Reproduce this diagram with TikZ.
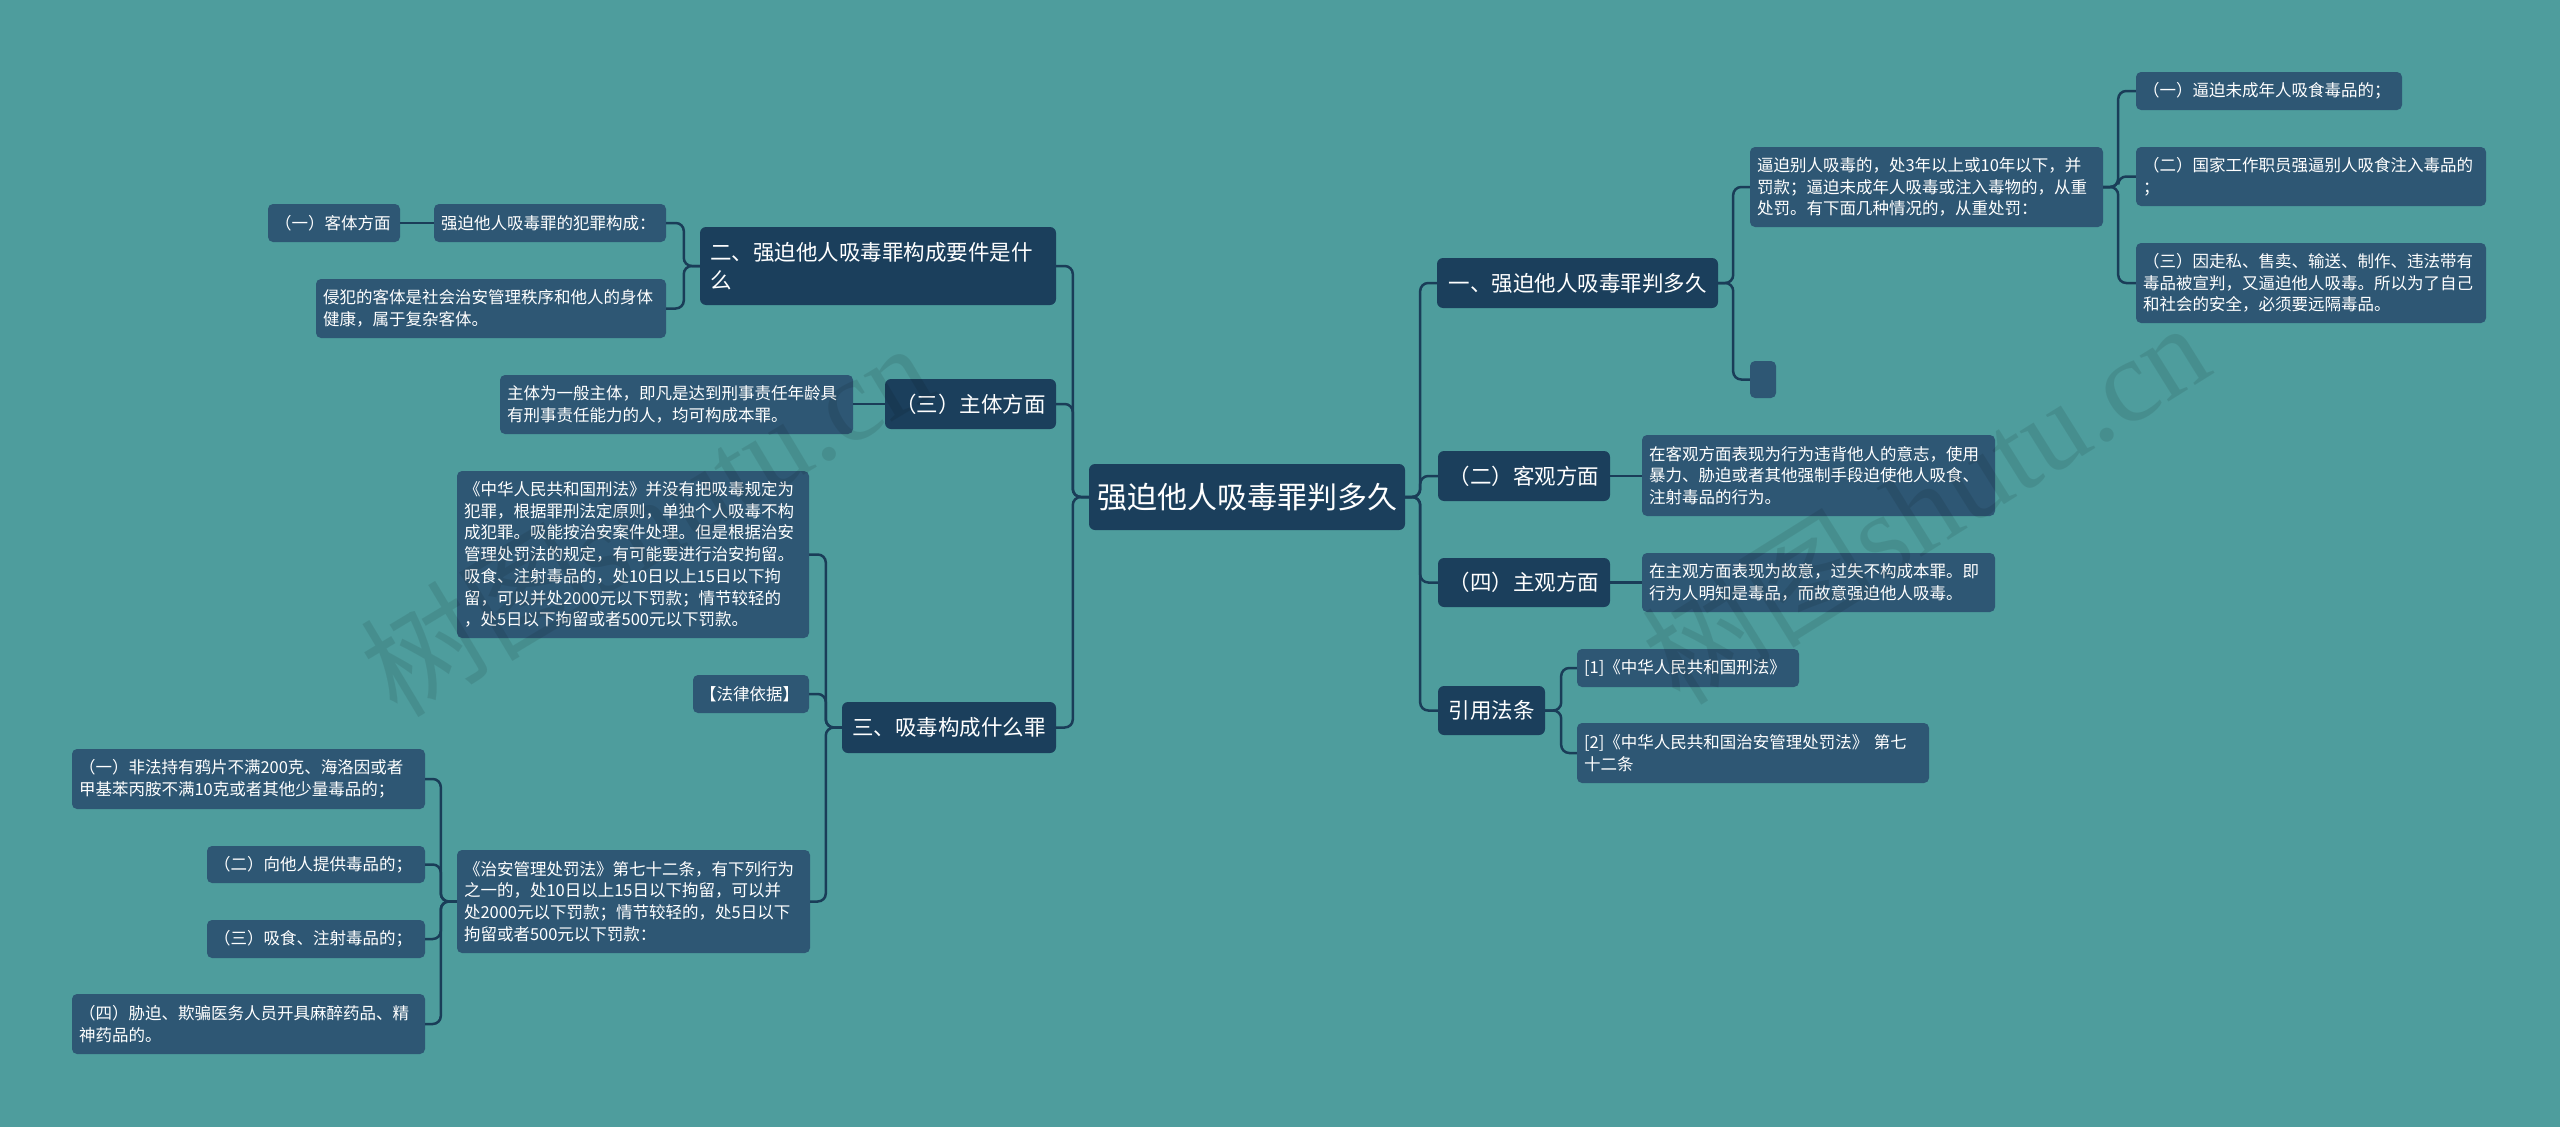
\documentclass[tikz,border=0pt]{standalone}
\usepackage{fontspec}
\setmainfont{Noto Sans CJK SC}
\newfontfamily\wmlatin{Liberation Serif}
\definecolor{bgcol}{RGB}{78,157,157}
\definecolor{darkn}{RGB}{27,63,92}
\definecolor{lightn}{RGB}{46,87,116}
\definecolor{linec}{RGB}{26,61,88}
\tikzset{
  dbox/.style={fill=darkn, rounded corners=6pt, text=white, inner sep=0pt, align=center,
               font=\fontsize{21.5}{28}\selectfont},
  lbox/.style={fill=lightn, rounded corners=5pt, text=white, inner xsep=7pt, inner ysep=0pt,
               align=left, font=\fontsize{16.5}{21.7}\selectfont},
  conn/.style={draw=linec, line width=2.5pt, rounded corners=8pt},
  wmark/.style={text=black, text opacity=0.09, font=\fontsize{118}{120}\selectfont, inner sep=0pt}
}
\begin{document}
\begin{tikzpicture}[x=1pt,y=-1pt]
\useasboundingbox (0,0) rectangle (2560,1127);
\fill[bgcol] (0,0) rectangle (2560,1127);

% central
\node[dbox, minimum width=316pt, minimum height=66pt, font=\fontsize{30}{36}\selectfont] (c) at (1247,497) {强迫他人吸毒罪判多久};

% left level 1
\node[dbox, minimum width=356pt, minimum height=78pt, text width=336pt, align=left] (n2) at (878,266) {二、强迫他人吸毒罪构成要件是什\\么};
\node[dbox, minimum width=171pt, minimum height=50pt] (n3z) at (970.5,404) {（三）主体方面};
\node[dbox, minimum width=214pt, minimum height=51pt] (n3) at (949,727.5) {三、吸毒构成什么罪};

% right level 1
\node[dbox, minimum width=281pt, minimum height=50pt] (r1) at (1577.5,283) {一、强迫他人吸毒罪判多久};
\node[dbox, minimum width=172pt, minimum height=50pt] (r2) at (1524,476) {（二）客观方面};
\node[dbox, minimum width=172pt, minimum height=49pt] (r4) at (1524,582.5) {（四）主观方面};
\node[dbox, minimum width=107pt, minimum height=49pt] (r5) at (1491.5,710.5) {引用法条};

% left level 2
\node[lbox, text width=218pt, minimum height=38pt] (a1) at (550,223) {强迫他人吸毒罪的犯罪构成：};
\node[lbox, text width=118pt, minimum height=38pt] (a0) at (334,223) {（一）客体方面};
\node[lbox, text width=336pt, minimum height=59pt] (a2) at (491,308.5) {侵犯的客体是社会治安管理秩序和他人的身体\\健康，属于复杂客体。};
\node[lbox, text width=339pt, minimum height=59pt] (b1) at (676.5,404.5) {主体为一般主体，即凡是达到刑事责任年龄具\\有刑事责任能力的人，均可构成本罪。};
\node[lbox, text width=338pt, minimum height=167pt] (c1) at (633,554.5) {《中华人民共和国刑法》并没有把吸毒规定为\\犯罪，根据罪刑法定原则，单独个人吸毒不构\\成犯罪。吸能按治安案件处理。但是根据治安\\管理处罚法的规定，有可能要进行治安拘留。\\吸食、注射毒品的，处10日以上15日以下拘\\留，可以并处2000元以下罚款；情节较轻的\\，处5日以下拘留或者500元以下罚款。};
\node[lbox, text width=102pt, minimum height=38pt] (c2) at (751,694) {【法律依据】};
\node[lbox, text width=339pt, minimum height=103pt] (c3) at (633.5,901.5) {《治安管理处罚法》第七十二条，有下列行为\\之一的，处10日以上15日以下拘留，可以并\\处2000元以下罚款；情节较轻的，处5日以下\\拘留或者500元以下罚款：};
\node[lbox, text width=339pt, minimum height=60pt] (d1) at (248.5,779) {（一）非法持有鸦片不满200克、海洛因或者\\甲基苯丙胺不满10克或者其他少量毒品的；};
\node[lbox, text width=204pt, minimum height=37pt] (d2) at (316,864.5) {（二）向他人提供毒品的；};
\node[lbox, text width=204pt, minimum height=38pt] (d3) at (316,939) {（三）吸食、注射毒品的；};
\node[lbox, text width=339pt, minimum height=60pt] (d4) at (248.5,1024) {（四）胁迫、欺骗医务人员开具麻醉药品、精\\神药品的。};

% right level 2
\node[lbox, text width=339pt, minimum height=80pt] (e1) at (1926.5,187) {逼迫别人吸毒的，处3年以上或10年以下，并\\罚款；逼迫未成年人吸毒或注入毒物的，从重\\处罚。有下面几种情况的，从重处罚：};
\node[lbox, inner xsep=0pt, minimum width=26pt, minimum height=37pt] (e2) at (1763,379.5) {};
\node[lbox, text width=252pt, minimum height=38pt] (f1) at (2269,91) {（一）逼迫未成年人吸食毒品的；};
\node[lbox, text width=336pt, minimum height=59pt] (f2) at (2311,176.5) {（二）国家工作职员强逼别人吸食注入毒品的\\；};
\node[lbox, text width=336pt, minimum height=80pt] (f3) at (2311,283) {（三）因走私、售卖、输送、制作、违法带有\\毒品被宣判，又逼迫他人吸毒。所以为了自己\\和社会的安全，必须要远隔毒品。};
\node[lbox, text width=339pt, minimum height=81pt] (g1) at (1818.5,475.5) {在客观方面表现为行为违背他人的意志，使用\\暴力、胁迫或者其他强制手段迫使他人吸食、\\注射毒品的行为。};
\node[lbox, text width=339pt, minimum height=59pt] (g2) at (1818.5,582.5) {在主观方面表现为故意，过失不构成本罪。即\\行为人明知是毒品，而故意强迫他人吸毒。};
\node[lbox, text width=208pt, minimum height=38pt] (h1) at (1688,668) {[1]《中华人民共和国刑法》};
\node[lbox, text width=338pt, minimum height=60pt] (h2) at (1753,753) {[2]《中华人民共和国治安管理处罚法》 第七\\十二条};

% connectors: central
\foreach \t in {r1,r2,r4,r5} \draw[conn] (c.east) -- ++(15,0) |- (\t.west);
\foreach \t in {n2,n3z,n3} \draw[conn] (c.west) -- ++(-16,0) |- (\t.east);
% right
\foreach \t in {e1,e2} \draw[conn] (r1.east) -- ++(15,0) |- (\t.west);
\foreach \t in {f1,f2,f3} \draw[conn] (e1.east) -- ++(15,0) |- (\t.west);
\draw[conn] (r2.east) -- (g1.west |- r2.east);
\draw[conn] (r4.east) -- (g2.west |- r4.east);
\foreach \t in {h1,h2} \draw[conn] (r5.east) -- ++(16,0) |- (\t.west);
% left
\foreach \t in {a1,a2} \draw[conn] (n2.west) -- ++(-16,0) |- (\t.east);
\draw[conn] (a1.west) -- (a0.east);
\draw[conn] (n3z.west) -- (b1.east |- n3z.west);
\foreach \t in {c1,c2,c3} \draw[conn] (n3.west) -- ++(-16,0) |- (\t.east);
\foreach \t in {d1,d2,d3,d4} \draw[conn] (c3.west) -- ++(-16,0) |- (\t.east);

% watermarks
\node[wmark, rotate=31] (w1) at (646,518) {树图{\wmlatin shutu.cn}};
\node[wmark, rotate=32] (w2) at (1925,502) {树图{\wmlatin shutu.cn}};
\end{tikzpicture}
\end{document}
